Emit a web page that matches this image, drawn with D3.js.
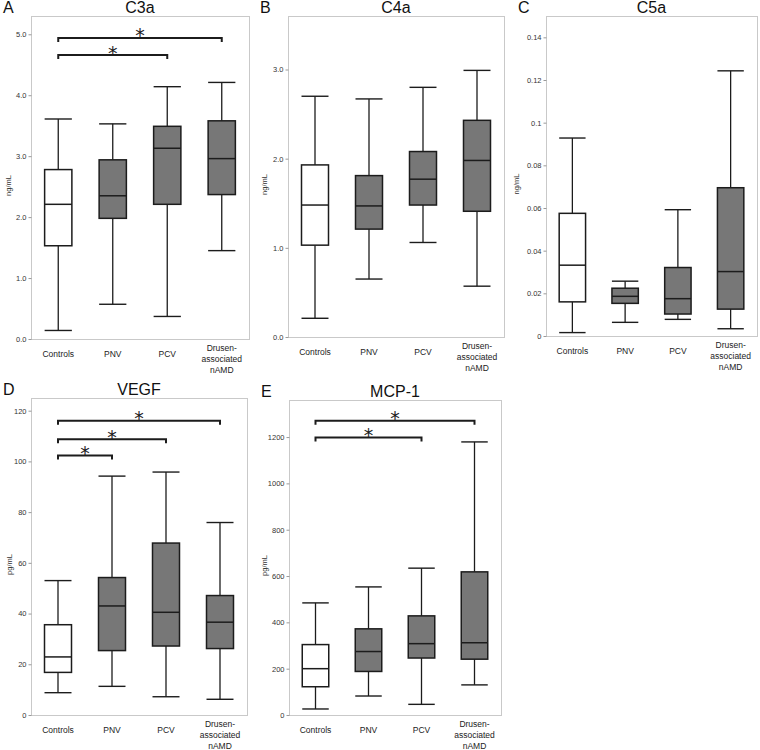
<!DOCTYPE html>
<html>
<head>
<meta charset="utf-8">
<script src="https://cdn.jsdelivr.net/npm/d3@7"></script>
<style>
  html, body { margin: 0; padding: 0; background: #fff; }
  svg { display: block; font-family: "Liberation Sans", Arial, sans-serif; }
</style>
</head>
<body>
<svg id="chart" width="760" height="750"></svg>
<script>
// ---------- data ----------
const categories = ["Controls", "PNV", "PCV", "Drusen-associated nAMD"];
const categoryLines = [["Controls"], ["PNV"], ["PCV"], ["Drusen-", "associated", "nAMD"]];
const groupFill = ["white", "grey", "grey", "grey"];

// each entry: [min, Q1, median, Q3, max]
const c3a = [[0.14, 1.53, 2.21, 2.78, 3.61], [0.57, 1.98, 2.35, 2.94, 3.53], [0.37, 2.21, 3.13, 3.49, 4.14], [1.45, 2.37, 2.96, 3.58, 4.21]];
const c4a = [[0.21, 1.03, 1.48, 1.93, 2.70], [0.65, 1.21, 1.47, 1.81, 2.67], [1.06, 1.48, 1.77, 2.08, 2.80], [0.57, 1.41, 1.98, 2.43, 2.99]];
const c5a = [[0.0016, 0.0160, 0.0332, 0.0575, 0.0928], [0.0064, 0.0153, 0.0186, 0.0224, 0.0257], [0.0078, 0.0103, 0.0175, 0.0321, 0.0592], [0.0034, 0.0126, 0.0302, 0.0695, 0.1243]];
const vegf = [[8.8, 16.8, 22.9, 35.6, 53.0], [11.3, 25.4, 43.0, 54.2, 94.2], [7.2, 27.2, 40.5, 67.8, 95.8], [6.2, 26.2, 36.6, 47.1, 75.9]];
const mcp1 = [[26, 122, 200, 304, 484], [82, 188, 274, 372, 553], [46, 246, 308, 428, 634], [130, 241, 312, 618, 1179]];

const c3aTicks = [0, 1, 2, 3, 4, 5];
const c4aTicks = [0, 1, 2, 3];
const c5aTicks = [0, 0.02, 0.04, 0.06, 0.08, 0.1, 0.12, 0.14];
const vegfTicks = [0, 20, 40, 60, 80, 100, 120];
const mcp1Ticks = [0, 200, 400, 600, 800, 1000, 1200];

const c3aTickLabels = ["0.0", "1.0", "2.0", "3.0", "4.0", "5.0"];
const c4aTickLabels = ["0.0", "1.0", "2.0", "3.0"];
const c5aTickLabels = ["0", "0.02", "0.04", "0.06", "0.08", "0.1", "0.12", "0.14"];
const vegfTickLabels = ["0", "20", "40", "60", "80", "100", "120"];
const mcp1TickLabels = ["0", "200", "400", "600", "800", "1000", "1200"];

// significance brackets: group index from, to, and level in data units
const c3aBrackets = [{ from: 0, to: 3, level: 4.94 }, { from: 0, to: 2, level: 4.66 }];
const c4aBrackets = [];
const c5aBrackets = [];
const vegfBrackets = [{ from: 0, to: 3, level: 116 }, { from: 0, to: 2, level: 108.7 }, { from: 0, to: 1, level: 102.3 }];
const mcp1Brackets = [{ from: 0, to: 3, level: 1270 }, { from: 0, to: 2, level: 1198 }];

const panels = [
  { letter: "A", title: "C3a", unit: "ng/mL", values: c3a, ticks: c3aTicks, tickLabels: c3aTickLabels, brackets: c3aBrackets, domainMax: 5.3 },
  { letter: "B", title: "C4a", unit: "ng/mL", values: c4a, ticks: c4aTicks, tickLabels: c4aTickLabels, brackets: c4aBrackets, domainMax: 3.6 },
  { letter: "C", title: "C5a", unit: "ng/mL", values: c5a, ticks: c5aTicks, tickLabels: c5aTickLabels, brackets: c5aBrackets, domainMax: 0.15 },
  { letter: "D", title: "VEGF", unit: "pg/mL", values: vegf, ticks: vegfTicks, tickLabels: vegfTickLabels, brackets: vegfBrackets, domainMax: 125 },
  { letter: "E", title: "MCP-1", unit: "pg/mL", values: mcp1, ticks: mcp1Ticks, tickLabels: mcp1TickLabels, brackets: mcp1Brackets, domainMax: 1360 }
];

// ---------- layout ----------
const layout = [
  { x0: 31, x1: 249, y0: 16, y1: 339, ylab: 8 },
  { x0: 288, x1: 504, y0: 16, y1: 337, ylab: 264 },
  { x0: 546, x1: 757, y0: 16, y1: 336, ylab: 516 },
  { x0: 31, x1: 247, y0: 398, y1: 715, ylab: 9 },
  { x0: 289, x1: 501, y0: 400, y1: 715, ylab: 264 }
];
const fillColor = { white: "#ffffff", grey: "#777777" };
const ink = "#1c1c1c";

const svg = d3.select("#chart");

panels.forEach((p, i) => {
  const L = layout[i];
  const g = svg.append("g");
  const x = d3.scaleBand().domain(categories).range([L.x0, L.x1]).padding(0);
  const y = d3.scaleLinear().domain([0, p.domainMax]).range([L.y1, L.y0]);
  const bw = x.bandwidth() * 0.5;

  // frame
  g.append("rect")
    .attr("x", L.x0 + 0.5).attr("y", L.y0 + 0.5)
    .attr("width", L.x1 - L.x0).attr("height", L.y1 - L.y0)
    .attr("fill", "none").attr("stroke", "#c9c9c9").attr("stroke-width", 1);

  // y axis
  const yAxis = d3.axisLeft(y).tickValues(p.ticks)
    .tickFormat((d, k) => p.tickLabels[k]).tickSize(3).tickPadding(2);
  const ax = g.append("g").attr("transform", `translate(${L.x0 + 0.5},0)`).call(yAxis);
  ax.select(".domain").remove();
  ax.selectAll(".tick line").attr("stroke", "#9a9a9a");
  ax.selectAll(".tick text").attr("fill", "#333").style("font-size", "7.5px")
    .style("font-family", "'Liberation Sans', Arial, sans-serif");

  // y label
  g.append("text")
    .attr("transform", `translate(${L.ylab + 3},${(L.y0 + L.y1) / 2 + 8}) rotate(-90)`)
    .attr("text-anchor", "middle").attr("fill", "#333").style("font-size", "7.5px")
    .text(p.unit);

  // title and letter
  g.append("text").attr("x", (L.x0 + L.x1) / 2).attr("y", L.y0 - 3)
    .attr("text-anchor", "middle").attr("fill", "#111").style("font-size", "16px").text(p.title);
  g.append("text").attr("x", L.x0 - 28).attr("y", L.y0 - 3)
    .attr("text-anchor", "start").attr("fill", "#111").style("font-size", "16px").text(p.letter);

  // x labels
  categories.forEach((c, k) => {
    const lines = categoryLines[k];
    const cx = x(c) + x.bandwidth() / 2;
    const t = g.append("text").attr("text-anchor", "middle").attr("fill", "#222").style("font-size", "8.5px");
    const startY = lines.length === 1 ? L.y1 + 17.5 : L.y1 + 12;
    lines.forEach((ln, j) => {
      t.append("tspan").attr("x", cx).attr("y", startY + j * 11).text(ln);
    });
  });

  // boxes
  p.values.forEach((v, k) => {
    const c = categories[k];
    const cx = x(c) + x.bandwidth() / 2;
    const [mn, q1, md, q3, mx] = v;
    const bg = g.append("g");
    bg.append("line").attr("x1", cx).attr("x2", cx).attr("y1", y(mx)).attr("y2", y(q3))
      .attr("stroke", ink).attr("stroke-width", 1.3);
    bg.append("line").attr("x1", cx).attr("x2", cx).attr("y1", y(q1)).attr("y2", y(mn))
      .attr("stroke", ink).attr("stroke-width", 1.3);
    bg.append("line").attr("x1", cx - bw / 2).attr("x2", cx + bw / 2).attr("y1", y(mx)).attr("y2", y(mx))
      .attr("stroke", ink).attr("stroke-width", 1.4);
    bg.append("line").attr("x1", cx - bw / 2).attr("x2", cx + bw / 2).attr("y1", y(mn)).attr("y2", y(mn))
      .attr("stroke", ink).attr("stroke-width", 1.4);
    bg.append("rect").attr("x", cx - bw / 2).attr("y", y(q3)).attr("width", bw).attr("height", y(q1) - y(q3))
      .attr("fill", fillColor[groupFill[k]]).attr("stroke", ink).attr("stroke-width", 1.5);
    bg.append("line").attr("x1", cx - bw / 2).attr("x2", cx + bw / 2).attr("y1", y(md)).attr("y2", y(md))
      .attr("stroke", ink).attr("stroke-width", 1.5);
  });

  // brackets
  p.brackets.forEach(b => {
    const xa = x(categories[b.from]) + x.bandwidth() / 2;
    const xb = x(categories[b.to]) + x.bandwidth() / 2;
    const yb = y(b.level);
    g.append("path")
      .attr("d", `M${xa},${yb + 4}V${yb}H${xb}V${yb + 4}`)
      .attr("fill", "none").attr("stroke", ink).attr("stroke-width", 2);
    g.append("text").attr("x", (xa + xb) / 2).attr("y", yb + 4.5)
      .attr("text-anchor", "middle").attr("fill", ink)
      .style("font-family", "'DejaVu Sans', sans-serif").style("font-size", "19px").text("*");
  });
});
</script>
</body>
</html>
